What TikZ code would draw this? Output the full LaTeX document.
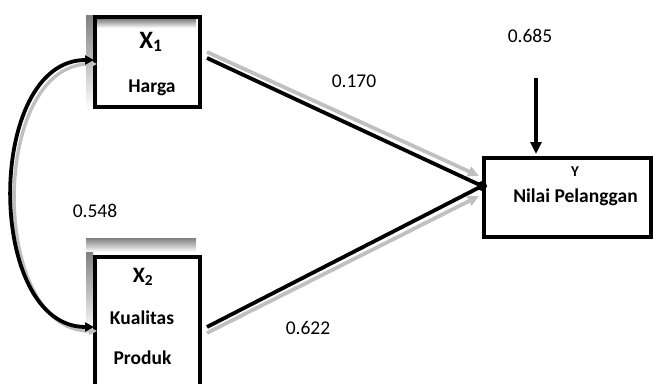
\documentclass[tikz,border=0pt]{standalone}
\usepackage{fontspec}
\setmainfont{Carlito}
\usetikzlibrary{arrows.meta}
\definecolor{shade}{HTML}{C0C0C0}
\begin{document}
\begin{tikzpicture}[x=1pt,y=-1pt,
 boxx/.style={draw=black,line width=4.6pt,rectangle,inner sep=0pt},
 lbl/.style={font=\fontsize{19.5}{22}\selectfont,inner sep=0pt},
 txt/.style={font=\bfseries\fontsize{19.5}{22}\selectfont,inner sep=0pt},
 blk/.style={draw=black,line width=3.8pt},
 shd/.style={draw=shade,line width=4pt},
 tipb/.style={-{Triangle[length=11pt,width=10pt]}},
]
\useasboundingbox (0,0) rectangle (656,383);
% gray shadows of boxes
\fill[shade] (86,15) rectangle (93,110);
\fill[shade] (93,19) rectangle (196,28);
\fill[shade] (86,238) rectangle (196,252);
\fill[shade] (86,252) rectangle (93,333);
% boxes
\node[boxx,minimum width=105pt,minimum height=90pt] (x1) at (147.5,62) {};
\node[boxx,minimum width=105pt,minimum height=138pt] (x2) at (147.5,326) {};
\node[boxx,minimum width=167pt,minimum height=79pt] (y) at (567.5,197.5) {};
% texts
\node[txt,font=\bfseries\fontsize{25}{27}\selectfont] (x1a) at (151,42) {X\textsubscript{1}};
\node[txt] (x1b) at (152,88) {Harga};
\node[txt,font=\bfseries\fontsize{22}{24}\selectfont] (x2a) at (143,277) {X\textsubscript{2}};
\node[txt] (x2b) at (142,318) {Kualitas};
\node[txt] (x2c) at (142.5,358) {Produk};
\node[txt,font=\bfseries\fontsize{15}{18}\selectfont] (ya) at (575,172) {Y};
\node[txt] (yb) at (575.5,197) {Nilai Pelanggan};
% coefficient labels
\node[lbl] (l685) at (530,36) {0.685};
\node[lbl] (l170) at (354,81) {0.170};
\node[lbl] (l548) at (95,211) {0.548};
\node[lbl] (l622) at (308,328) {0.622};
% connector coordinates
\coordinate (a1) at (207,58);
\coordinate (a2) at (207,327);
\coordinate (yin) at (482,186);
\coordinate (g1s) at (207,52);
\coordinate (g1e) at (479,176);
\coordinate (g2s) at (207,333);
\coordinate (g2e) at (479,196);
\coordinate (c1) at (94,60);
\coordinate (c2) at (94,327);
\coordinate (e0) at (536,78);
\coordinate (e1) at (536,154);
% gray shadow arrows
\draw[shd,line width=3.8pt,tipb] (g1s) -- (g1e);
\draw[shd,line width=3.8pt,tipb] (g2s) -- (g2e);
\draw[shd,line width=3.4pt,{Triangle[length=8pt,width=8pt]}-{Triangle[length=8pt,width=8pt]}]
  ([shift={(3,4)}]c1) .. controls (-11,64) and (-11,331) .. ([shift={(3,4)}]c2);
% black connectors
\draw[blk] (a1) -- (yin);
\draw[blk] (a2) -- (yin);
\fill (yin) circle (5pt);
\draw[blk,{Triangle[length=9pt,width=9pt]}-{Triangle[length=9pt,width=9pt]}]
  (c1) .. controls (-15,60) and (-15,327) .. (c2);
\draw[blk,-{Triangle[length=12pt,width=11pt]}] (e0) -- (e1);
\end{tikzpicture}
\end{document}
